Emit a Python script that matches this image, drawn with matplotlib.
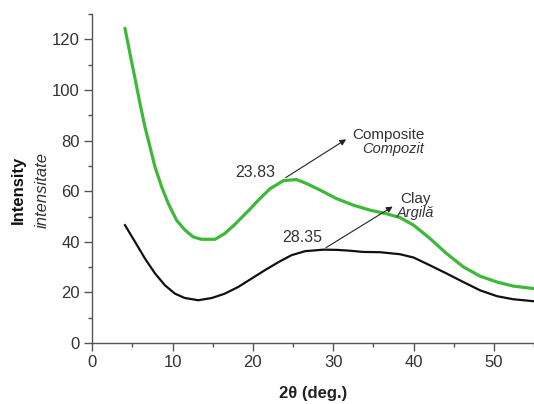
import matplotlib
matplotlib.use("Agg")
import matplotlib.pyplot as plt
from matplotlib.ticker import MultipleLocator

plt.rcParams['font.family'] = ['Liberation Sans', 'DejaVu Sans']

# Composite (green)
comp_x = [4.07, 4.69, 5.32, 5.94, 6.56, 7.19, 7.81, 8.64, 9.47, 10.5, 11.55, 12.58, 13.6,
          15.3, 16.5, 17.6, 18.6, 19.6, 20.6, 22.1, 23.8, 25.45, 26.7, 28.4, 30.4, 32.5,
          34.6, 36.5, 38.3, 40.0, 42.05, 44.1, 46.2, 48.3, 50.4, 52.4, 55.0]
comp_y = [124.4, 114.5, 104.6, 94.7, 85.4, 77.5, 69.6, 61.7, 55.1, 48.5, 44.6, 41.9, 41.0,
          41.0, 43.3, 46.4, 49.6, 52.8, 56.2, 60.9, 64.2, 64.6, 63.0, 60.4, 57.1, 54.5,
          52.5, 51.2, 49.6, 46.6, 41.3, 35.4, 30.1, 26.4, 24.1, 22.5, 21.5]

# Clay (black)
clay_x = [4.07, 5.32, 6.56, 7.81, 9.05, 10.3, 11.5, 13.2, 14.9, 16.5, 18.2, 19.85, 21.5,
          23.2, 24.8, 26.5, 28.8, 30.5, 32.0, 33.7, 35.8, 38.3, 40.0, 42.05, 44.1, 46.2,
          48.3, 50.4, 52.4, 55.0]
clay_y = [46.6, 40.0, 33.4, 27.5, 22.8, 19.5, 17.8, 16.9, 17.8, 19.5, 22.2, 25.5, 28.8,
          32.0, 34.7, 36.3, 36.9, 36.8, 36.5, 36.0, 35.9, 35.1, 33.8, 30.7, 27.5, 24.1,
          20.8, 18.5, 17.3, 16.5]

x_ticks = [0, 10, 20, 30, 40, 50]
y_ticks = [0, 20, 40, 60, 80, 100, 120]

fig = plt.figure(figsize=(5.34, 4.04), dpi=100)
ax = fig.add_axes([0.1728, 0.151, 0.8272, 0.814])

ax.plot(comp_x, comp_y, color='#3fb83a', lw=2.3, solid_joinstyle='round',
        solid_capstyle='round')
ax.plot(clay_x, clay_y, color='#111111', lw=1.6, solid_joinstyle='round')

ax.set_xlim(0, 55)
ax.set_ylim(0, 130)
ax.set_xticks(x_ticks)
ax.set_yticks(y_ticks)
ax.xaxis.set_minor_locator(MultipleLocator(5))
ax.yaxis.set_minor_locator(MultipleLocator(10))

for s in ['top', 'right']:
    ax.spines[s].set_visible(False)
for s in ['left', 'bottom']:
    ax.spines[s].set_color('#555555')
    ax.spines[s].set_linewidth(1.0)

ax.tick_params(which='major', direction='out', length=6, width=1, color='#555555',
               labelsize=12, labelcolor='#333333', pad=3)
ax.tick_params(which='minor', direction='out', length=3, width=1, color='#555555')

ax.set_xlabel('2θ (deg.)', fontsize=12, fontweight='bold', color='#222222', labelpad=11)

fig.text(0.034, 0.53, 'Intensity', rotation=90, fontsize=12, fontweight='bold',
         ha='center', va='center', color='#111111')
fig.text(0.079, 0.53, 'intensitate', rotation=90, fontsize=12, fontstyle='italic',
         ha='center', va='center', color='#333333')

# Annotations
ax.annotate('', xy=(31.9, 81.1), xytext=(23.8, 64.8),
            arrowprops=dict(arrowstyle='-|>', color='#222222', lw=0.8, mutation_scale=9))
ax.text(20.3, 67.5, '23.83', fontsize=11.5, color='#333333', ha='center', va='center')
ax.text(32.4, 82.2, 'Composite', fontsize=11, color='#333333', ha='left', va='center')
ax.text(37.4, 76.5, 'Compozit', fontsize=10.5, color='#333333', ha='center', va='center',
        fontstyle='italic')

ax.annotate('', xy=(37.7, 54.5), xytext=(28.8, 37.1),
            arrowprops=dict(arrowstyle='-|>', color='#222222', lw=0.8, mutation_scale=9))
ax.text(26.2, 41.7, '28.35', fontsize=11.5, color='#333333', ha='center', va='center')
ax.text(38.3, 57.1, 'Clay', fontsize=11, color='#333333', ha='left', va='center')
ax.text(37.9, 51.4, 'Argilă', fontsize=10.5, color='#333333', ha='left', va='center',
        fontstyle='italic')

fig.savefig('out.png', dpi=100)
